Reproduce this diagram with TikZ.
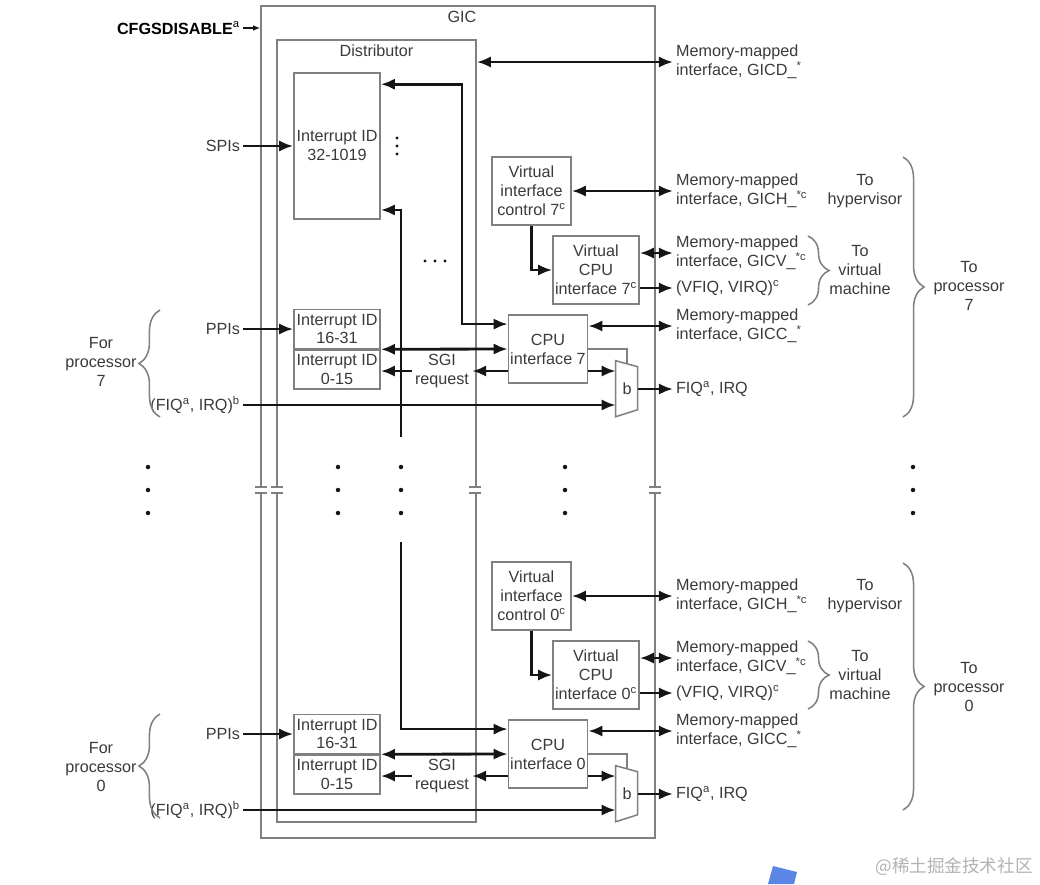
\documentclass[tikz,border=0pt]{standalone}
\usepackage{fontspec}
\setmainfont{Liberation Sans}
\newfontfamily\cjk{Noto Sans CJK SC}
\usetikzlibrary{positioning,arrows.meta,decorations.pathreplacing}
\definecolor{txt}{HTML}{3A3A3A}
\definecolor{edge}{HTML}{808080}
\definecolor{wirec}{HTML}{151515}
\definecolor{cursorblue}{HTML}{5B86E5}
\newcommand{\pxu}{0.025cm}

\begin{document}
\begin{tikzpicture}[x=0.025cm, y=-0.025cm,
	font=\fontsize{11.5}{13.5}\selectfont,
	>={Latex[length=10pt,width=8pt]},
	every node/.style={text=txt},
	box/.style 2 args={draw=edge, line width=1.1pt, inner sep=0pt, align=center,
		minimum width=#1*\pxu, minimum height=#2*\pxu},
	wire/.style={draw=wirec, line width=2pt},
	thin edge/.style={draw=edge, line width=1.1pt},
	rlbl/.style={anchor=west, align=left, inner xsep=2pt, inner ysep=0pt},
	llbl/.style={anchor=east, align=right, inner xsep=2pt, inner ysep=0pt},
	brc/.style={draw=edge, line width=1.1pt, decorate, decoration={brace, amplitude=15pt}}]
	\useasboundingbox (0,0) rectangle (1040,884);

	\node [box={394}{832}] (gic) at (458,422) {};
	\node [box={199}{782}] (dist) at (376.5,431) {};
	\node (gicname) at (462,17) {GIC};
	\node (distname) at (376.5,51) {Distributor};
	\node [llbl, text=black] (cfg) at (243,28) {\textbf{CFGSDISABLE}\textsuperscript{a}};

	\node [box={86}{146}] (spi) at (337,146) {Interrupt ID\\32-1019};
	\node [llbl] (spis) at (243,146) {SPIs};
	\node [rlbl] (gicd) at (673,62) {Memory-mapped\\interface, GICD\_\textsuperscript{*}};

	\node [box={86}{39}] (ppi7) at (337,329) {Interrupt ID\\16-31};
	\node [box={86}{39}, below=0pt of ppi7] (sgi7) {Interrupt ID\\0-15};
	\node [box={79}{68}] (cpu7) at (548,349) {CPU\\interface 7};
	\node [box={79}{68}] (vic7) at (531.5,191) {Virtual\\interface\\control 7\textsuperscript{c}};
	\node [box={86}{68}] (vcpu7) at (596,270) {Virtual\\CPU\\interface 7\textsuperscript{c}};
	\node [minimum width=22*\pxu, minimum height=56*\pxu, inner sep=0pt] (mux7) at (627,389) {b};
	\draw [thin edge] (mux7.north west) -- ++(22,6) -- ++(0,43) -- ++(-22,7) -- cycle;
	\node [align=center, inner xsep=2pt] (req7) at (442,371) {SGI\\request};
	\node [llbl] (ppis7) at (243,329) {PPIs};
	\node [llbl] (irq7) at (243,405) {(FIQ\textsuperscript{a}, IRQ)\textsuperscript{b}};
	\node [align=center] (for7) at (101,362) {For\\processor\\7};
	\node [rlbl] (gich7) at (673,191) {Memory-mapped\\interface, GICH\_\textsuperscript{*c}};
	\node [rlbl] (gicv7) at (673,253) {Memory-mapped\\interface, GICV\_\textsuperscript{*c}};
	\node [rlbl] (vfiq7) at (673,288) {(VFIQ, VIRQ)\textsuperscript{c}};
	\node [rlbl] (gicc7) at (673,326) {Memory-mapped\\interface, GICC\_\textsuperscript{*}};
	\node [rlbl] (fiq7) at (673,389) {FIQ\textsuperscript{a}, IRQ};
	\node [align=center] (hyp7) at (865,191) {To\\hypervisor};
	\node [align=center] (vm7) at (860,270) {To\\virtual\\machine};
	\node [align=center] (to7) at (969,286) {To\\processor\\7};

	\node [box={86}{39}] (ppi0) at (337,734) {Interrupt ID\\16-31};
	\node [box={86}{39}, below=0pt of ppi0] (sgi0) {Interrupt ID\\0-15};
	\node [box={79}{68}] (cpu0) at (548,754) {CPU\\interface 0};
	\node [box={79}{68}] (vic0) at (531.5,596) {Virtual\\interface\\control 0\textsuperscript{c}};
	\node [box={86}{68}] (vcpu0) at (596,675) {Virtual\\CPU\\interface 0\textsuperscript{c}};
	\node [minimum width=22*\pxu, minimum height=56*\pxu, inner sep=0pt] (mux0) at (627,794) {b};
	\draw [thin edge] (mux0.north west) -- ++(22,6) -- ++(0,43) -- ++(-22,7) -- cycle;
	\node [align=center, inner xsep=2pt] (req0) at (442,776) {SGI\\request};
	\node [llbl] (ppis0) at (243,734) {PPIs};
	\node [llbl] (irq0) at (243,810) {(FIQ\textsuperscript{a}, IRQ)\textsuperscript{b}};
	\node [align=center] (for0) at (101,767) {For\\processor\\0};
	\node [rlbl] (gich0) at (673,596) {Memory-mapped\\interface, GICH\_\textsuperscript{*c}};
	\node [rlbl] (gicv0) at (673,658) {Memory-mapped\\interface, GICV\_\textsuperscript{*c}};
	\node [rlbl] (vfiq0) at (673,693) {(VFIQ, VIRQ)\textsuperscript{c}};
	\node [rlbl] (gicc0) at (673,731) {Memory-mapped\\interface, GICC\_\textsuperscript{*}};
	\node [rlbl] (fiq0) at (673,794) {FIQ\textsuperscript{a}, IRQ};
	\node [align=center] (hyp0) at (865,596) {To\\hypervisor};
	\node [align=center] (vm0) at (860,675) {To\\virtual\\machine};
	\node [align=center] (to0) at (969,687) {To\\processor\\0};

	\coordinate (d7) at (462,200);
	\coordinate (s7) at (401,437);
	\coordinate (s0) at (401,542);

	\foreach \x in {261,277,475,655} {
		\fill [white] (\x-6,487) rectangle (\x+6,493);
		\draw [draw=edge, line width=0.8pt] (\x-6,487) -- (\x+6,487) (\x-6,493) -- (\x+6,493);
	}
	\foreach \x in {148,338,401,565,913}
		\foreach \y in {467,490,513}
			\fill [wirec] (\x,\y) circle (1.6pt);
	\foreach \x in {425,435,445}
		\fill [wirec] (\x,261) circle (1.2pt);
	\foreach \y in {138,146,154}
		\fill [wirec] (397,\y) circle (1.1pt);

	\draw [draw=wirec, line width=1pt, -{Latex[length=5pt,width=4pt]}] (cfg.east) to (gic.west |- cfg);
	\draw [wire, <->] (dist.east |- gicd) to (gicd.west);
	\draw [wire, ->] (spis.east) to (spi.west);
	\draw [wire, <->] ([yshift=-8.5pt]spi.north east) -| (d7) |- ([yshift=-7pt]cpu7.north west);
	\draw [wire, ->] (s7) |- ([yshift=7pt]spi.south east);
	\draw [wire, ->] (s0) |- ([yshift=-7pt]cpu0.north west);

	\draw [wire, ->] (ppis7.east) to (ppi7.west);
	\draw [wire, <->] (ppi7.south east) to (cpu7.west);
	\draw [wire, ->] (cpu7.west |- req7) to (req7.east);
	\draw [wire, ->] (req7.west) to (sgi7.east |- req7);
	\draw [wire, ->] (cpu7.east |- req7) to (mux7.west |- req7);
	\draw [thin edge] (cpu7.east) -| ([yshift=-2pt]mux7.north);
	\draw [wire, ->] (irq7.east) to (mux7.west |- irq7);
	\draw [wire, ->] (mux7.east) to (fiq7.west);
	\draw [wire, <->] (cpu7.east |- gicc7) to (gicc7.west);
	\draw [wire, <->] (vic7.east |- gich7) to (gich7.west);
	\draw [wire, ->] (vic7.south) |- (vcpu7.west);
	\draw [wire, <->] (vcpu7.east |- gicv7) to (gicv7.west);
	\draw [wire, ->] (vcpu7.east |- vfiq7) to (vfiq7.west);

	\draw [wire, ->] (ppis0.east) to (ppi0.west);
	\draw [wire, <->] (ppi0.south east) to (cpu0.west);
	\draw [wire, ->] (cpu0.west |- req0) to (req0.east);
	\draw [wire, ->] (req0.west) to (sgi0.east |- req0);
	\draw [wire, ->] (cpu0.east |- req0) to (mux0.west |- req0);
	\draw [thin edge] (cpu0.east) -| ([yshift=-2pt]mux0.north);
	\draw [wire, ->] (irq0.east) to (mux0.west |- irq0);
	\draw [wire, ->] (mux0.east) to (fiq0.west);
	\draw [wire, <->] (cpu0.east |- gicc0) to (gicc0.west);
	\draw [wire, <->] (vic0.east |- gich0) to (gich0.west);
	\draw [wire, ->] (vic0.south) |- (vcpu0.west);
	\draw [wire, <->] (vcpu0.east |- gicv0) to (gicv0.west);
	\draw [wire, ->] (vcpu0.east |- vfiq0) to (vfiq0.west);

	\draw [brc] (160,417) -- (160,310);
	\draw [brc] (903,157) -- (903,417);
	\draw [brc] (808,236) -- (808,305);
	\draw [brc] (160,818) -- (160,714);
	\draw [brc] (903,563) -- (903,810);
	\draw [brc] (808,641) -- (808,709);

	\fill [cursorblue] (773,866) -- (797,872) -- (794,884) -- (768,884) -- cycle;
	\node [text=gray!60, font=\cjk\fontsize{12.5}{14}\selectfont] (wm) at (954,867) {@稀土掘金技术社区};
\end{tikzpicture}
\end{document}
